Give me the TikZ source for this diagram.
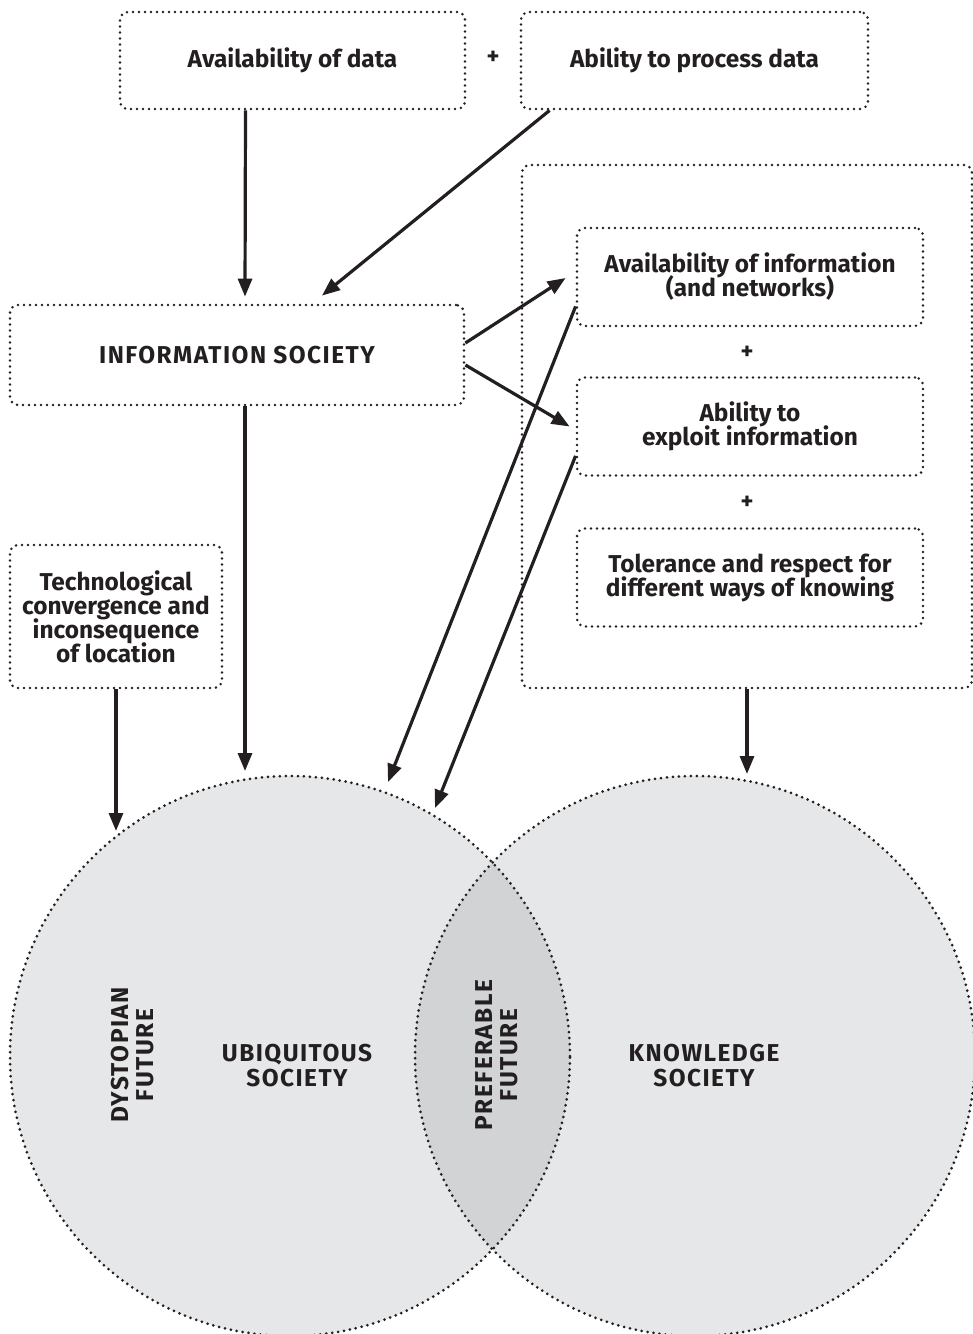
\documentclass[tikz,border=0pt]{standalone}
\usepackage{fontspec}
\setmainfont{Fira Sans}
\newfontfamily\capsfont{Fira Sans}[LetterSpace=6]
\usetikzlibrary{arrows.meta}
\definecolor{ink}{HTML}{231F20}
\definecolor{disc}{HTML}{E6E7E8}
\definecolor{lens}{HTML}{D1D3D4}
\newcommand\boxfont{\fontsize{12.2}{12}\selectfont\setlength{\lineskiplimit}{-20pt}\bfseries}
\newcommand\lblfont{\fontsize{12.2}{12.5}\selectfont\setlength{\lineskiplimit}{-20pt}\bfseries\capsfont}

\begin{document}
\begin{tikzpicture}[x=0.5pt,y=-0.5pt,
    box/.style={draw=ink,line width=1.4pt,dash pattern=on 0pt off 3pt,line cap=round,rounded corners=4pt,
                inner sep=0pt,align=center,text=ink,font=\boxfont},
    plus/.style={text=ink,font=\boxfont},
    arr/.style={draw=ink,line width=1.6pt,-{Triangle[length=9pt,width=7pt]}},
    ring/.style={draw=ink,line width=1.5pt,dash pattern=on 0pt off 3pt,line cap=round},
    lbl/.style={text=ink,align=center,font=\lblfont},
]
    \useasboundingbox (0,0) rectangle (973,1334);

    % circles
    \fill[disc] (290,1056) circle[radius=140pt];
    \fill[disc] (695,1056) circle[radius=140pt];
    \begin{scope}
      \clip (290,1056) circle[radius=140pt];
      \fill[lens] (695,1056) circle[radius=140pt];
    \end{scope}
    \draw[ring] (290,1056) circle[radius=140pt];
    \draw[ring] (695,1056) circle[radius=140pt];

    \node[lbl,rotate=90] at (133,1055) (dys) {DYSTOPIAN\\FUTURE};
    \node[lbl] at (297,1066) (ubi) {UBIQUITOUS\\SOCIETY};
    \node[lbl,rotate=90] at (497,1055) (pref) {PREFERABLE\\FUTURE};
    \node[lbl] at (704,1066) (know) {KNOWLEDGE\\SOCIETY};

    % boxes
    \node[box,minimum width=172.5pt,minimum height=48.5pt] at (292.5,60.5) (data) {Availability of data};
    \node[plus] at (493,58) (p1) {+};
    \node[box,minimum width=173.5pt,minimum height=48.5pt] at (694.5,60.5) (proc) {Ability to process data};

    \node[box,minimum width=227pt,minimum height=50pt] at (237,355) (info) {\capsfont INFORMATION SOCIETY};
    \node[box,minimum width=106pt,minimum height=71.5pt] at (116,616.5) (tech)
      {Technological\\convergence and\\inconsequence\\of location};

    \node[box,minimum width=225pt,minimum height=261.5pt] at (747,426.5) (outer) {};
    \node[box,minimum width=173pt,minimum height=49pt] at (750,277) (avail) {Availability of information\\(and networks)};
    \node[plus] at (747,353) (p2) {+};
    \node[box,minimum width=173pt,minimum height=49pt] at (750,426.5) (expl) {Ability to\\exploit information};
    \node[plus] at (747,503) (p3) {+};
    \node[box,minimum width=173pt,minimum height=49pt] at (750,577.5) (tol) {Tolerance and respect for\\different ways of knowing};

    % arrow tips on the circles
    \coordinate (t1) at (245,771);
    \coordinate (t2) at (116,831);
    \coordinate (t3) at (388,782);
    \coordinate (t4) at (435,808);
    \coordinate (t5) at (747,774);

    \draw[arr] ([xshift=-23.5pt]data.south) -- ([xshift=4pt,yshift=3.5pt]info.north);
    \draw[arr] ([xshift=15pt]proc.south west) -- ([xshift=42.5pt,yshift=4pt]info.north);
    \draw[arr] ([yshift=6pt]info.east) -- ([xshift=-5pt,yshift=-0.5pt]avail.west);
    \draw[arr] ([yshift=-5pt]info.east) -- ([xshift=-3pt]expl.west);
    \draw[arr] ([xshift=4pt]info.south) -- (t1);
    \draw[arr] (tech.south) -- (t2);
    \draw[arr] ([yshift=10.5pt]avail.south west) -- (t3);
    \draw[arr] ([yshift=10.5pt]expl.south west) -- (t4);
    \draw[arr] (outer.south) -- (t5);
\end{tikzpicture}
\end{document}
